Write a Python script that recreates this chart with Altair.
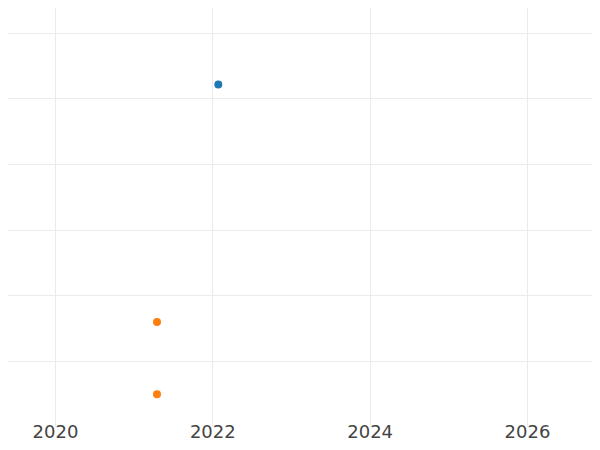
import altair as alt
import pandas as pd

# data
years = [2022.076, 2021.297, 2021.297]
values = [5.21, 1.59, 0.49]
groups = ["A", "B", "B"]

x_ticks = [2020, 2022, 2024, 2026]
y_ticks = [1, 2, 3, 4, 5, 6]

df = pd.DataFrame({"year": years, "value": values, "group": groups})

chart = alt.Chart(df).mark_circle(size=64, opacity=1).encode(
    x=alt.X("year:Q",
            scale=alt.Scale(domain=[2019.301, 2026.928], nice=False, zero=False),
            axis=alt.Axis(values=x_ticks, format="d", title=None, ticks=False, tickSize=0,
                          domain=False, labelPadding=11, labelBaseline="alphabetic",
                          labelFontSize=18, labelFont="DejaVu Sans", labelColor="#444444",
                          gridColor="#ebebeb", gridWidth=1, labelFlush=False)),
    y=alt.Y("value:Q",
            scale=alt.Scale(domain=[0, 6.5], nice=False, zero=False),
            axis=alt.Axis(values=y_ticks, title=None, labels=False, ticks=False, tickSize=0,
                          domain=False, gridColor="#ebebeb", gridWidth=1)),
    color=alt.Color("group:N", scale=alt.Scale(range=["#1f77b4", "#ff7f0e"]), legend=None),
).properties(
    width=600,
    height=426.4,
    autosize=alt.AutoSizeParams(type="none"),
    padding={"left": -8, "top": -8, "right": -8, "bottom": 15.6},
).configure(
    background="white",
    view=alt.ViewConfig(stroke="transparent", strokeWidth=0),
)

chart.save("out.html", embed_options={"renderer": "svg", "actions": False})
